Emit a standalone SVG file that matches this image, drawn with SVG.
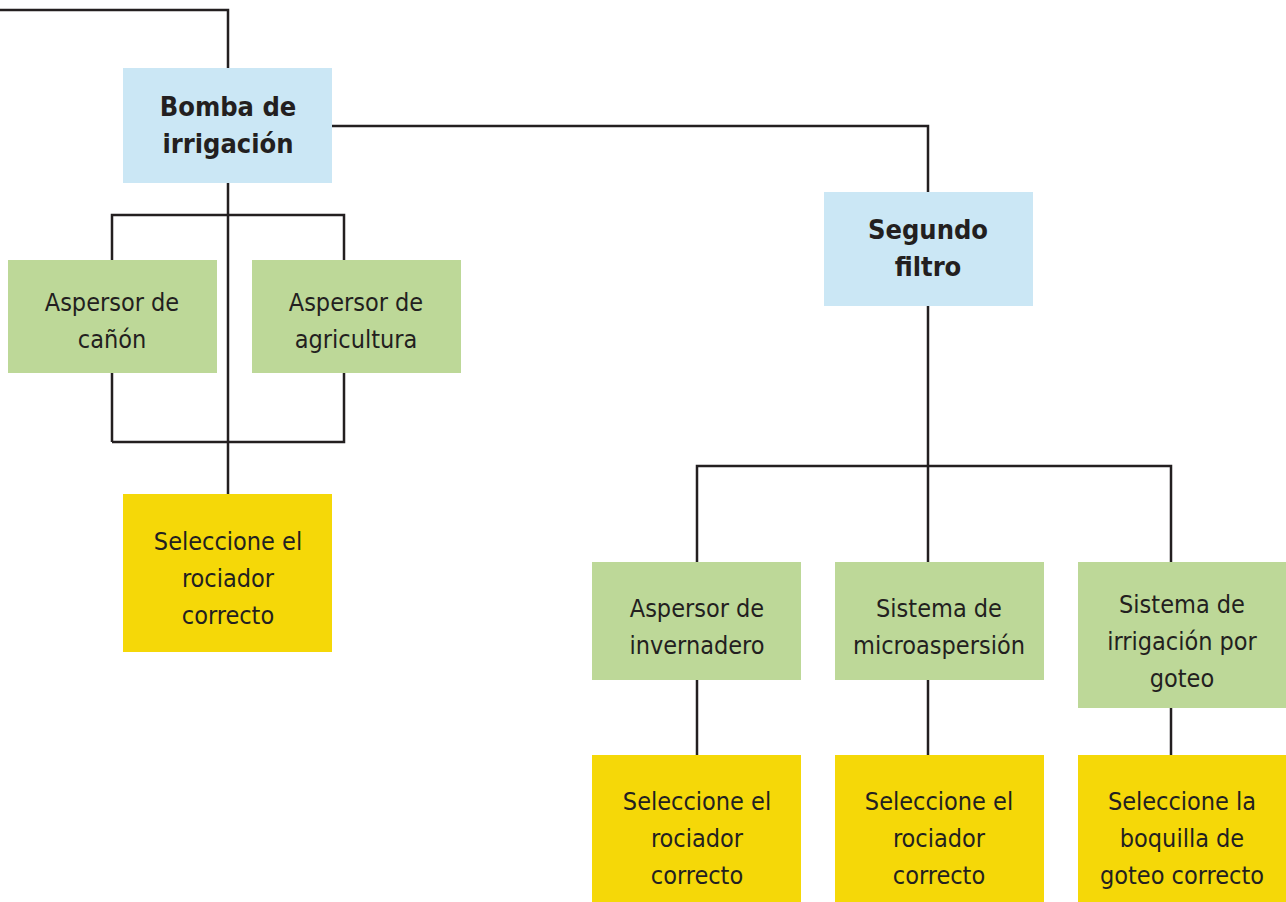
<svg xmlns="http://www.w3.org/2000/svg" width="1286" height="902" viewBox="0 0 1286 902">
<style>
.blue{fill:#cbe7f5}
.green{fill:#bdd898}
.yellow{fill:#f5d808}
.t{font-family:"DejaVu Sans Condensed","DejaVu Sans",sans-serif;font-stretch:condensed;font-size:25px;fill:#231f20;text-anchor:middle}
.b{font-weight:bold;font-size:27px}
.ln{fill:none;stroke:#231f20;stroke-width:2.5}
</style>
<rect width="1286" height="902" fill="#fff"/>
<g id="connectors">
<path class="ln" d="M0 10H228V68"/>
<path class="ln" d="M228 183V494"/>
<path class="ln" d="M112 442V215H344V442H112"/>
<path class="ln" d="M332 126H928V192"/>
<path class="ln" d="M928 306V562"/>
<path class="ln" d="M697 562V466H1171V562"/>
<path class="ln" d="M697 680V755"/>
<path class="ln" d="M928 680V755"/>
<path class="ln" d="M1171 708V755"/>
</g>
<g id="bomba"><rect class="blue" x="123" y="68" width="209" height="115"/>
<text class="t b" x="228" y="116">Bomba de</text><text class="t b" x="228" y="153">irrigación</text></g>
<g id="canon"><rect class="green" x="8" y="260" width="209" height="113"/>
<text class="t" x="112" y="311">Aspersor de</text><text class="t" x="112" y="348">cañón</text></g>
<g id="agricultura"><rect class="green" x="252" y="260" width="209" height="113"/>
<text class="t" x="356" y="311">Aspersor de</text><text class="t" x="356" y="348">agricultura</text></g>
<g id="sel1"><rect class="yellow" x="123" y="494" width="209" height="158"/>
<text class="t" x="228" y="550">Seleccione el</text><text class="t" x="228" y="587">rociador</text><text class="t" x="228" y="624">correcto</text></g>
<g id="segundo"><rect class="blue" x="824" y="192" width="209" height="114"/>
<text class="t b" x="928" y="239">Segundo</text><text class="t b" x="928" y="276">filtro</text></g>
<g id="invernadero"><rect class="green" x="592" y="562" width="209" height="118"/>
<text class="t" x="697" y="617">Aspersor de</text><text class="t" x="697" y="654">invernadero</text></g>
<g id="micro"><rect class="green" x="835" y="562" width="209" height="118"/>
<text class="t" x="939" y="617">Sistema de</text><text class="t" x="939" y="654">microaspersión</text></g>
<g id="goteo"><rect class="green" x="1078" y="562" width="208" height="146"/>
<text class="t" x="1182" y="613">Sistema de</text><text class="t" x="1182" y="650">irrigación por</text><text class="t" x="1182" y="687">goteo</text></g>
<g id="sel2"><rect class="yellow" x="592" y="755" width="209" height="147"/>
<text class="t" x="697" y="810">Seleccione el</text><text class="t" x="697" y="847">rociador</text><text class="t" x="697" y="884">correcto</text></g>
<g id="sel3"><rect class="yellow" x="835" y="755" width="209" height="147"/>
<text class="t" x="939" y="810">Seleccione el</text><text class="t" x="939" y="847">rociador</text><text class="t" x="939" y="884">correcto</text></g>
<g id="sel4"><rect class="yellow" x="1078" y="755" width="208" height="147"/>
<text class="t" x="1182" y="810">Seleccione la</text><text class="t" x="1182" y="847">boquilla de</text><text class="t" x="1182" y="884">goteo correcto</text></g>
</svg>
